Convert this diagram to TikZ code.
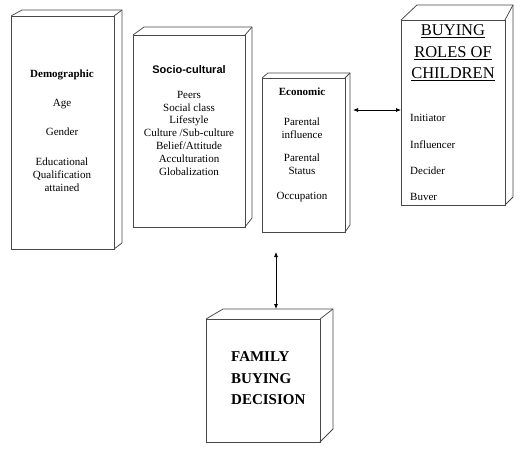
\documentclass[tikz,border=0pt]{standalone}
\usepackage{fontspec}
\setmainfont{Liberation Serif}
\newfontfamily\arialfont{Liberation Sans}
\usetikzlibrary{arrows.meta}
\tikzset{
  edge/.style={draw=black!72, line width=0.75pt, line join=miter},
  boxfront/.style={edge, fill=white, rectangle, inner sep=0pt, outer sep=0pt},
  txt/.style={font=\fontsize{11}{13}\selectfont, inner sep=0pt, anchor=mid},
  itm/.style={font=\fontsize{11}{13}\selectfont, inner sep=0pt, anchor=mid west},
  big/.style={font=\fontsize{16.5}{20}\selectfont, inner sep=0pt, anchor=mid},
  fam/.style={font=\fontsize{15}{20}\selectfont\bfseries, inner sep=0pt, anchor=mid west},
  arr/.style={draw=black, line width=0.75pt, {Latex[length=5pt,width=4pt]}-{Latex[length=5pt,width=4pt]}}
}
% name, x1, y1, x2, y2, left dx, right dx, top dy, bottom dy
\newcommand\mycuboid[9]{%
  \node[boxfront, minimum width={#4pt-#2pt}, minimum height={#5pt-#3pt}] (#1) at ({(#2+#4)/2},{(#3+#5)/2}) {};
  \draw[edge] (#1.north west) -- ++(#6,-#8) -- ([shift={(#7,-#8)}]#1.north east) -- ([shift={(#7,-#9)}]#1.south east) -- (#1.south east);
  \draw[edge] (#1.north east) -- ++(#7,-#8);
}
\begin{document}
\begin{tikzpicture}[x=1pt,y=-1pt]
\useasboundingbox (0,0) rectangle (530,450);

\mycuboid{demo}{11}{16}{114}{249}{11}{8}{6}{6}
\mycuboid{socio}{133}{35}{245}{227}{11}{7}{8}{9}
\mycuboid{eco}{262}{78}{345}{232}{6}{5}{5}{7}
\mycuboid{roles}{401}{20}{505}{205}{16}{8}{15}{8}
\mycuboid{family}{206}{319}{320}{442}{17}{13}{10}{13}

% Demographic
\node[txt, font=\fontsize{11}{13}\selectfont\bfseries] (d0) at (62,75) {Demographic};
\node[txt] (d1) at (62,104) {Age};
\node[txt] (d2) at (62,133) {Gender};
\node[txt] (d3) at (62,163) {Educational};
\node[txt] (d4) at (62,176) {Qualification};
\node[txt] (d5) at (62,189) {attained};

% Socio-cultural
\node[txt, font=\fontsize{11}{13}\selectfont\arialfont\bfseries] (s0) at (189,71) {Socio-cultural};
\node[txt] (s1) at (189,96) {Peers};
\node[txt] (s2) at (189,109) {Social class};
\node[txt] (s3) at (189,121) {Lifestyle};
\node[txt] (s4) at (189,134) {Culture /Sub-culture};
\node[txt] (s5) at (189,147) {Belief/Attitude};
\node[txt] (s6) at (189,160) {Acculturation};
\node[txt] (s7) at (189,173) {Globalization};

% Economic
\node[txt, font=\fontsize{11}{13}\selectfont\bfseries] (e0) at (302,93) {Economic};
\node[txt] (e1) at (302,123) {Parental};
\node[txt] (e2) at (302,136) {influence};
\node[txt] (e3) at (302,159) {Parental};
\node[txt] (e4) at (302,172) {Status};
\node[txt] (e5) at (302,197) {Occupation};

% Buying roles
\node[big] (r0) at (453,33) {\underline{BUYING}};
\node[big] (r1) at (453,55) {\underline{ROLES OF}};
\node[big] (r2) at (453,76) {\underline{CHILDREN}};
\node[itm] (r3) at (410,119) {Initiator};
\node[itm] (r4) at (410,146) {Influencer};
\node[itm] (r5) at (410,172) {Decider};
\node[itm] (r6) at (410,198) {Buver};

% Family
\node[fam] (f0) at (231,359) {FAMILY};
\node[fam] (f1) at (231,381) {BUYING};
\node[fam] (f2) at (231,402) {DECISION};

% connectors
\coordinate (ecoR) at (353,110);
\draw[arr] (ecoR) -- (roles.west |- ecoR);
\coordinate (vtop) at (276,252);
\coordinate (famback) at (276,309);
\draw[arr] (vtop) -- (famback);
\end{tikzpicture}
\end{document}
